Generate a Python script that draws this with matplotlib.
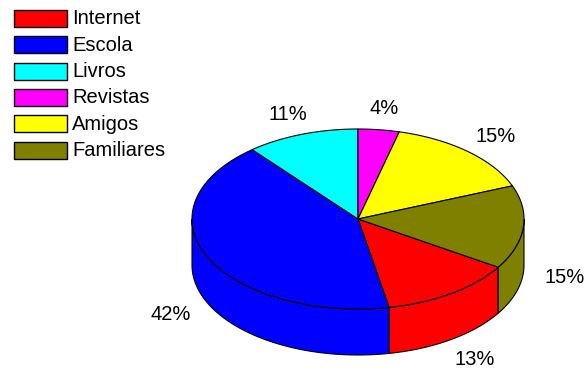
import matplotlib
matplotlib.use("Agg")
import matplotlib.pyplot as plt
import numpy as np
from matplotlib.patches import Polygon, Rectangle

# Data
categories = ["Internet", "Escola", "Livros", "Revistas", "Amigos", "Familiares"]
shares = [13, 42, 11, 4, 15, 15]
pct_labels = ["13%", "42%", "11%", "4%", "15%", "15%"]
colors = ["#FF0000", "#0000FF", "#00FFFF", "#FF00FF", "#FFFF00", "#808000"]

plt.rcParams["font.family"] = ["Liberation Sans", "DejaVu Sans"]

fig = plt.figure(figsize=(5.84, 3.69), dpi=100)
ax = fig.add_axes([0, 0, 1, 1])
ax.set_xlim(0, 584)
ax.set_ylim(369, 0)
ax.axis("off")

# Tilted pie geometry (pixel space)
cx, cy = 358.0, 219.0
rx, ry = 166.0, 90.0
depth = 46.0
edge_kw = dict(edgecolor="black", linewidth=0.8)

total = float(sum(shares))
cum = np.concatenate([[0], np.cumsum(shares)]) / total
# slices run clockwise; Revistas begins at 12 o'clock
start = 90.0 + 360.0 * cum[categories.index("Revistas")]


def ell(t_deg, drop=0.0):
    t = np.radians(t_deg)
    return np.column_stack([cx + rx * np.cos(t), cy - ry * np.sin(t) + drop])


# front side walls (visible where sin < 0)
for i, col in enumerate(colors):
    hi = start - 360.0 * cum[i]
    lo = start - 360.0 * cum[i + 1]
    for fa, fb in [(-180, 0), (-540, -360), (180, 360)]:
        a, b = max(lo, fa), min(hi, fb)
        if b - a > 1e-6:
            ts = np.linspace(a, b, 120)
            top = ell(ts)
            bot = ell(ts[::-1], depth)
            ax.add_patch(Polygon(np.vstack([top, bot]), closed=True,
                                 facecolor=col, zorder=1, **edge_kw))

# top faces
for i, col in enumerate(colors):
    hi = start - 360.0 * cum[i]
    lo = start - 360.0 * cum[i + 1]
    ts = np.linspace(hi, lo, 200)
    pts = np.vstack([[cx, cy], ell(ts)])
    ax.add_patch(Polygon(pts, closed=True, facecolor=col, zorder=2,
                         joinstyle="round", **edge_kw))

# percentage labels
k = 1.25
for i, lab in enumerate(pct_labels):
    mid = start - 360.0 * (cum[i] + cum[i + 1]) / 2
    m = np.radians(mid)
    x = cx + k * rx * np.cos(m)
    y = cy - k * ry * np.sin(m)
    if np.sin(m) < 0:
        y += depth
    ax.text(x, y + 1.5, lab, ha="center", va="center", fontsize=14.5,
            color="black", zorder=3)

# legend
box_x, box_w, box_h = 13.5, 53.5, 17.0
row0, row_step = 10.0, 26.3
for i, (name, col) in enumerate(zip(categories, colors)):
    top = row0 + i * row_step
    ax.add_patch(Rectangle((box_x, top), box_w, box_h, facecolor=col,
                           edgecolor="black", linewidth=1.0, zorder=3))
    ax.text(72, top + box_h / 2 + 0.5, name, ha="left", va="center",
            fontsize=14.5, color="black", zorder=3)

fig.savefig("out.png", dpi=100, facecolor="white")
